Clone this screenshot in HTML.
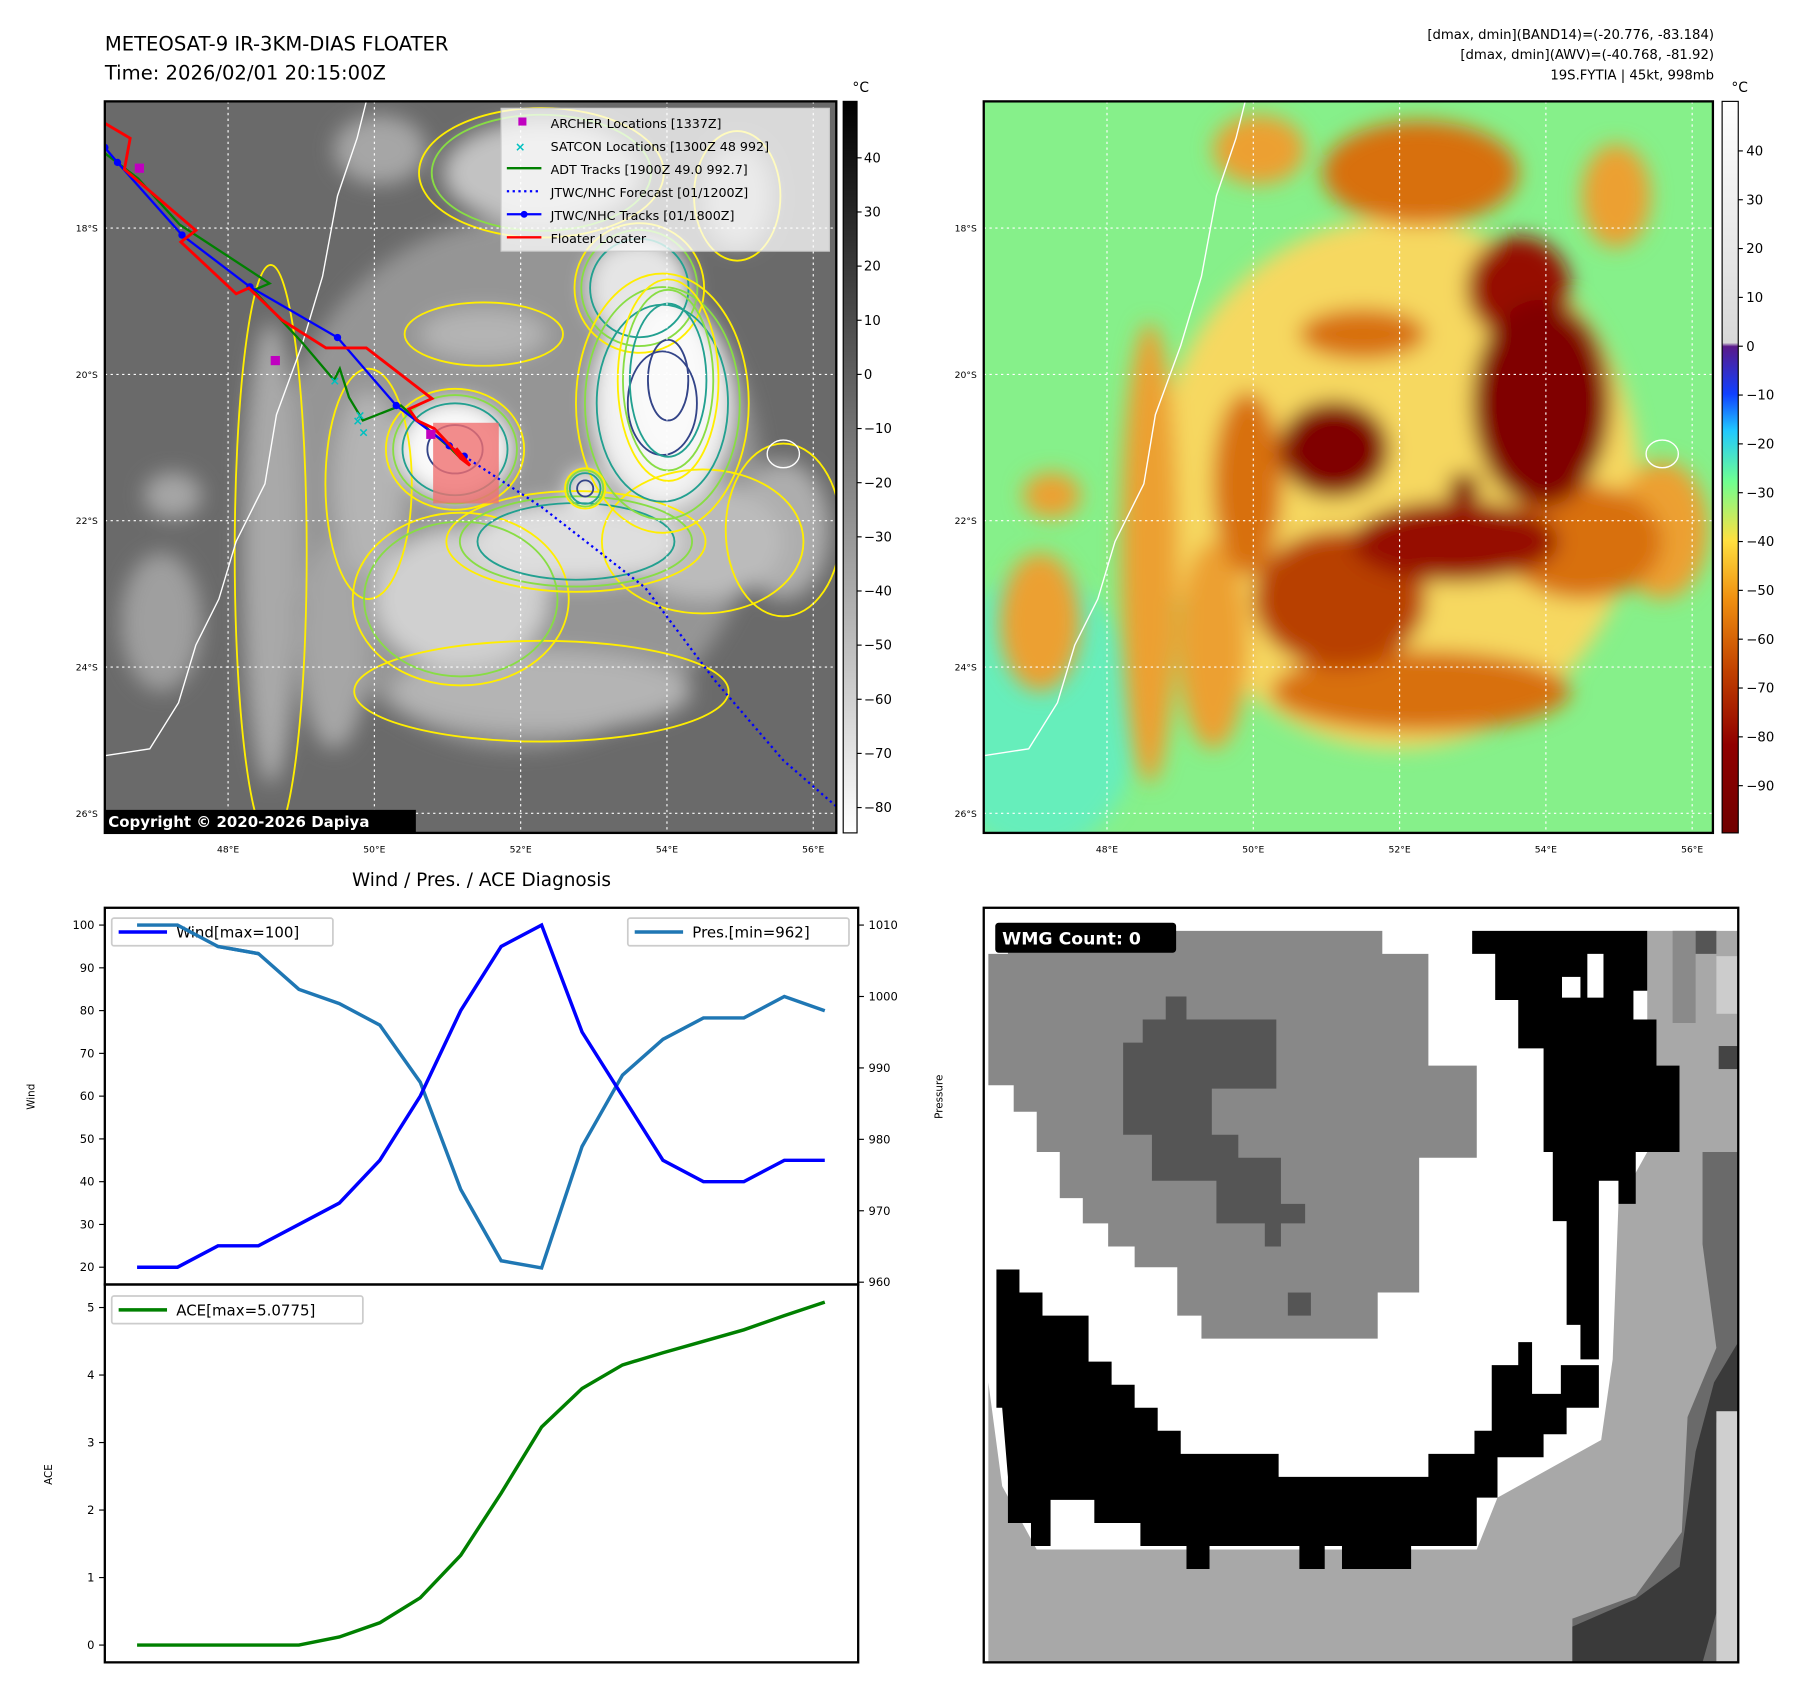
<!DOCTYPE html>
<html><head><meta charset="utf-8"><style>
html,body{margin:0;padding:0;background:#fff}
svg text{font-family:"DejaVu Sans","Liberation Sans",sans-serif}
</style></head><body>
<svg id="root" width="1797" height="1690" viewBox="0 0 1560 1467" preserveAspectRatio="none" xmlns="http://www.w3.org/2000/svg">
<defs>
<filter id="blur8" x="-50%" y="-50%" width="200%" height="200%"><feGaussianBlur stdDeviation="9"/></filter>
<filter id="blur4" x="-50%" y="-50%" width="200%" height="200%"><feGaussianBlur stdDeviation="4"/></filter>
<clipPath id="clipL"><rect x="91" y="88" width="635" height="635"/></clipPath>
<clipPath id="clipR"><rect x="854" y="88" width="633" height="635"/></clipPath>
<linearGradient id="cbL" x1="0" y1="0" x2="0" y2="1"><stop offset="0" stop-color="#000"/><stop offset="1" stop-color="#fff"/></linearGradient>
<linearGradient id="cbR" x1="0" y1="0" x2="0" y2="1">
<stop offset="0" stop-color="#ffffff"/><stop offset="0.33" stop-color="#d8d8d8"/><stop offset="0.335" stop-color="#5a1a8a"/>
<stop offset="0.4" stop-color="#1040ff"/><stop offset="0.45" stop-color="#20c8ff"/><stop offset="0.52" stop-color="#70ff90"/>
<stop offset="0.6" stop-color="#ffe040"/><stop offset="0.68" stop-color="#f09010"/><stop offset="0.78" stop-color="#c04000"/><stop offset="0.88" stop-color="#900000"/><stop offset="1" stop-color="#700000"/></linearGradient>
</defs>

<text x="91" y="44" font-size="17">METEOSAT-9 IR-3KM-DIAS FLOATER</text>
<text x="91" y="69" font-size="17">Time: 2026/02/01 20:15:00Z</text>
<g font-size="11.5" text-anchor="end">
<text x="1488" y="34">[dmax, dmin](BAND14)=(-20.776, -83.184)</text>
<text x="1488" y="51">[dmax, dmin](AWV)=(-40.768, -81.92)</text>
<text x="1488" y="69">19S.FYTIA | 45kt, 998mb</text>
</g>

<g clip-path="url(#clipL)">
<rect x="91" y="88" width="635" height="635" fill="#6a6a6a"/>
<g id="cloudsL" filter="url(#blur8)"></g>
<g id="contoursL" fill="none" stroke-width="1.6"></g>
</g>
<g clip-path="url(#clipR)">
<rect x="854" y="88" width="633" height="635" fill="#86f08a"/>
<ellipse cx="900" cy="620" rx="90" ry="120" fill="#66eebb" filter="url(#blur8)"/>
<g id="cloudsR" filter="url(#blur8)"></g>
</g>
<g id="overlays"></g>
<rect x="91" y="88" width="635" height="635" fill="none" stroke="#000" stroke-width="2"/>
<rect x="854" y="88" width="633" height="635" fill="none" stroke="#000" stroke-width="2"/>

<g font-size="11">
<rect x="435" y="94" width="285" height="124" fill="#fff" fill-opacity="0.75" stroke="#ccc"/>
<rect x="450" y="102" width="7" height="7" fill="#c000c0"/><text x="478" y="111">ARCHER Locations [1337Z]</text>
<text x="447" y="131" fill="#00c0c0" font-size="11" font-weight="bold">×</text><text x="478" y="131">SATCON Locations [1300Z 48 992]</text>
<line x1="440" y1="146" x2="470" y2="146" stroke="#008000" stroke-width="2"/><text x="478" y="151">ADT Tracks [1900Z 49.0 992.7]</text>
<line x1="440" y1="166" x2="470" y2="166" stroke="#0000ff" stroke-width="2" stroke-dasharray="2,3"/><text x="478" y="171">JTWC/NHC Forecast [01/1200Z]</text>
<line x1="440" y1="186" x2="470" y2="186" stroke="#0000ff" stroke-width="2"/><circle cx="455" cy="186" r="3" fill="#00f"/><text x="478" y="191">JTWC/NHC Tracks [01/1800Z]</text>
<line x1="440" y1="206" x2="470" y2="206" stroke="#ff0000" stroke-width="2"/><text x="478" y="211">Floater Locater</text>
</g>
<g><rect x="91" y="703" width="270" height="20" fill="#000"/><text x="94" y="718" fill="#fff" font-size="13" font-weight="bold">Copyright © 2020-2026 Dapiya</text></g>

<rect x="732" y="88" width="12" height="635" fill="url(#cbL)" stroke="#000"/>
<text x="740" y="80" font-size="12">°C</text>
<rect x="1495" y="88" width="14" height="635" fill="url(#cbR)" stroke="#000"/>
<text x="1503" y="80" font-size="12">°C</text>
<g id="axesText"></g>

<text x="418" y="769" font-size="16" text-anchor="middle">Wind / Pres. / ACE Diagnosis</text>
<g id="diag"></g>

<g>
<rect x="854" y="788" width="655" height="655" fill="#fff"/>
<polygon fill="#a8a8a8" points="858,1200 858,1443 1509,1443 1509,808 1430,808 1430,1000 1405,1045 1400,1180 1390,1250 1300,1300 1282,1345 900,1345 870,1290"/>
<polygon fill="#6a6a6a" points="1478,1000 1509,1000 1509,1443 1365,1443 1365,1405 1420,1385 1460,1330 1465,1230 1490,1170 1478,1080"/>
<polygon fill="#3a3a3a" points="1365,1412 1420,1388 1458,1360 1472,1260 1488,1200 1509,1165 1509,1225 1490,1235 1490,1400 1478,1443 1365,1443"/>
<rect x="1490" y="1225" width="19" height="218" fill="#cfcfcf"/>
<rect x="1452" y="808" width="20" height="80" fill="#8a8a8a"/><rect x="1472" y="808" width="18" height="20" fill="#555"/><rect x="1490" y="830" width="19" height="50" fill="#ccc"/><rect x="1492" y="908" width="17" height="20" fill="#444"/>
<polygon fill="#888" points="858,828 875,828 875,808 1200,808 1200,828 1240,828 1240,925 1282,925 1282,1005 1232,1005 1232,1122 1196,1122 1196,1162 1043,1162 1043,1142 1022,1142 1022,1100 985,1100 985,1082 962,1082 962,1062 940,1062 940,1040 920,1040 920,1000 900,1000 900,965 880,965 880,942 858,942"/>
<polygon fill="#555" points="975,905 992,905 992,885 1012,885 1012,865 1030,865 1030,885 1108,885 1108,945 1052,945 1052,985 1075,985 1075,1005 1112,1005 1112,1045 1133,1045 1133,1062 1112,1062 1112,1082 1098,1082 1098,1062 1056,1062 1056,1025 1000,1025 1000,985 975,985"/>
<rect x="1118" y="1122" width="20" height="20" fill="#555"/>
<polygon fill="#000" points="1278,808 1430,808 1430,860 1418,860 1418,885 1438,885 1438,925 1458,925 1458,1000 1420,1000 1420,1045 1405,1045 1405,1025 1388,1025 1388,1180 1372,1180 1372,1150 1360,1150 1360,1060 1348,1060 1348,1000 1340,1000 1340,910 1318,910 1318,868 1298,868 1298,828 1278,828"/>
<rect x="1356" y="848" width="16" height="18" fill="#fff"/><rect x="1378" y="828" width="14" height="38" fill="#fff"/>
<polygon fill="#000" points="865,1102 885,1102 885,1122 905,1122 905,1142 945,1142 945,1182 965,1182 965,1202 985,1202 985,1222 1005,1222 1005,1242 1025,1242 1025,1262 1110,1262 1110,1282 1240,1282 1240,1262 1280,1262 1280,1242 1295,1242 1295,1185 1318,1185 1318,1165 1330,1165 1330,1210 1355,1210 1355,1185 1388,1185 1388,1222 1360,1222 1360,1245 1340,1245 1340,1265 1300,1265 1300,1300 1282,1300 1282,1342 1225,1342 1225,1362 1165,1362 1165,1342 1150,1342 1150,1362 1128,1362 1128,1342 1050,1342 1050,1362 1030,1362 1030,1342 990,1342 990,1322 950,1322 950,1302 912,1302 912,1342 895,1342 895,1322 875,1322 875,1282 870,1222 865,1222"/>
<rect x="854" y="788" width="655" height="655" fill="none" stroke="#000" stroke-width="2"/>
<rect x="864" y="801" width="157" height="26" rx="3" fill="#000"/>
<text x="870" y="820" fill="#fff" font-size="15" font-weight="bold">WMG Count: 0</text>
</g>

<script>
const wind = [20,20,25,25,30,35,45,60,80,95,100,75,60,45,40,40,45,45];
const pressure = [1010,1010,1007,1006,1001,999,996,988,973,963,962,979,989,994,997,997,1000,998];
const ace = [0,0,0,0,0,0.12,0.33,0.7,1.33,2.25,3.23,3.8,4.15,4.33,4.5,4.67,4.88,5.08];
const windTicks = [20,30,40,50,60,70,80,90,100];
const presTicks = [960,970,980,990,1000,1010];
const aceTicks = [0,1,2,3,4,5];

const NS='http://www.w3.org/2000/svg';
function mk(tag, attrs, parent){const e=document.createElementNS(NS,tag);for(const k in attrs)e.setAttribute(k,attrs[k]);parent.appendChild(e);return e;}
const diag=document.getElementById('diag');
const xS=i=>119+i*(716-119)/(wind.length-1);
const yW=v=>1100-(v-20)*(1100-803)/80;
const yP=v=>1113-(v-960)*(1113-803)/50;
const yA=v=>1428-v*(1428-1135)/5;

const wf=mk('rect',{x:91,y:788,width:654,height:327,fill:'none',stroke:'#000','stroke-width':2},diag);


const af=mk('rect',{x:91,y:1115,width:654,height:328,fill:'none',stroke:'#000','stroke-width':2},diag);



windTicks.forEach(t=>{const y=yW(t);mk('line',{x1:86,x2:91,y1:y,y2:y,stroke:'#000'},diag);const tx=mk('text',{x:82,y:y+3.5,'font-size':10,'text-anchor':'end'},diag);tx.textContent=t;

});
presTicks.forEach(t=>{const y=yP(t);mk('line',{x1:745,x2:750,y1:y,y2:y,stroke:'#000'},diag);const tx=mk('text',{x:754,y:y+3.5,'font-size':10},diag);tx.textContent=t;

});
aceTicks.forEach(t=>{const y=yA(t);mk('line',{x1:86,x2:91,y1:y,y2:y,stroke:'#000'},diag);const tx=mk('text',{x:82,y:y+3.5,'font-size':10,'text-anchor':'end'},diag);tx.textContent=t;

});
let t1=mk('text',{x:30,y:952,'font-size':9,'text-anchor':'middle',transform:'rotate(-90 30 952)'},diag);t1.textContent='Wind';


let t2=mk('text',{x:818,y:952,'font-size':9,'text-anchor':'middle',transform:'rotate(-90 818 952)'},diag);t2.textContent='Pressure';


let t3=mk('text',{x:45,y:1280,'font-size':9,'text-anchor':'middle',transform:'rotate(-90 45 1280)'},diag);t3.textContent='ACE';



const pl=mk('polyline',{points:pressure.map((v,i)=>xS(i)+','+yP(v)).join(' '),fill:'none',stroke:'#1f77b4','stroke-width':3},diag);


const wl=mk('polyline',{points:wind.map((v,i)=>xS(i)+','+yW(v)).join(' '),fill:'none',stroke:'#0000ff','stroke-width':3},diag);


const al=mk('polyline',{points:ace.map((v,i)=>xS(i)+','+yA(v)).join(' '),fill:'none',stroke:'#008000','stroke-width':3},diag);



function legend(x,y,w,color,label,name){const g=mk('g',{},diag);


mk('rect',{x:x,y:y,width:w,height:24,rx:2,fill:'#fff','fill-opacity':0.8,stroke:'#ccc','stroke-width':1.5},g);
mk('line',{x1:x+6,x2:x+48,y1:y+12,y2:y+12,stroke:color,'stroke-width':3},g);
const t=mk('text',{x:x+56,y:y+17,'font-size':13},g);t.textContent=label;}
legend(97,797,192,'#0000ff','Wind[max=100]','wind-legend');
legend(545,797,192,'#1f77b4','Pres.[min=962]','pressure-legend');
legend(97,1125,218,'#008000','ACE[max=5.0775]','ace-legend');
mk('polyline',{points:pressure.slice(0,4).map((v,i)=>xS(i)+','+yP(v)).join(' '),fill:'none',stroke:'#1f77b4','stroke-width':3},diag);

// ---------- maps ----------
const blobs=[ // cx,cy,rx,ry,intensity (left-map coords)
[450,420,210,230,0.28],[235,480,25,200,0.42],[140,540,35,60,0.35],[290,560,30,90,0.4],[470,150,85,45,0.6],[330,130,40,30,0.4],
[640,170,30,45,0.45],[680,460,40,60,0.45],[150,430,25,20,0.4],
[470,600,130,35,0.5],[420,290,55,22,0.5],[610,470,70,50,0.55],[320,420,30,80,0.5],
[400,520,75,60,0.7],[500,470,90,35,0.8],[555,250,45,45,0.85],[575,350,60,90,0.95],
[395,390,48,42,1],[508,424,14,14,1],[580,330,35,70,1]];
const cL=document.getElementById('cloudsL'), cR=document.getElementById('cloudsR');
const pal=[[0.3,'#f6d860'],[0.45,'#eca030'],[0.6,'#d8700f'],[0.75,'#b84000'],[0.9,'#961000'],[2,'#800000']];
blobs.forEach(b=>{
 const g=Math.round(110+b[4]*140);
 mk('ellipse',{cx:b[0],cy:b[1],rx:b[2],ry:b[3],fill:`rgb(${g},${g},${g})`},cL);
 const col=pal.find(p=>b[4]<=p[0])[1];
 mk('ellipse',{cx:b[0]+763,cy:b[1],rx:b[2],ry:b[3],fill:col},cR);
});
const cont=document.getElementById('contoursL');
const rings=[['#ffee00',1.25],['#88dd44',1.12],['#22a090',0.95],['#334488',0.5]];
blobs.forEach(b=>{if(b[4]<0.4)return;rings.forEach((r,k)=>{ if(b[4]>0.4+k*0.18){
 mk('ellipse',{cx:b[0],cy:b[1],rx:b[2]*r[1],ry:b[3]*r[1],stroke:r[0]},cont);}});});

const ov=document.getElementById('overlays');
function lines(off,clip){const g=mk('g',{'clip-path':clip},ov);
 mk('polyline',{points:[[318,88],[310,120],[293,170],[280,240],[262,300],[240,360],[230,420],[205,470],[190,520],[170,560],[155,610],[130,650],[91,656]].map(p=>(p[0]+off)+','+p[1]).join(' '),fill:'none',stroke:'#fff','stroke-width':1.2},g);
 mk('ellipse',{cx:680+off,cy:394,rx:14,ry:12,fill:'none',stroke:'#fff','stroke-width':1.2},g);
 [198,325,452,579,706].forEach(y=>mk('line',{x1:91+off,x2:726+off,y1:y,y2:y,stroke:'#fff','stroke-dasharray':'2,3'},g));
 [198,325,452,579,706].forEach(x=>mk('line',{x1:x+off,x2:x+off,y1:88,y2:723,stroke:'#fff','stroke-dasharray':'2,3'},g));
 return g;}
lines(0,'url(#clipL)'); lines(763,'url(#clipR)');
const tg=mk('g',{'clip-path':'url(#clipL)'},ov);
mk('rect',{x:376,y:367,width:57,height:70,fill:'#f07070','fill-opacity':0.8},tg);
mk('polyline',{points:'403,396 470,440 560,510 620,590 680,660 726,700',fill:'none',stroke:'#00f','stroke-width':2,'stroke-dasharray':'2,3'},tg);
mk('polyline',{points:'91,133 120,155 156,195 234,246 220,252 262,297 290,330 295,320 303,345 315,365 348,352 392,390 400,398',fill:'none',stroke:'#008000','stroke-width':2},tg);
const bp=[[91,128],[102,141],[158,204],[217,249],[293,293],[344,352],[390,387],[403,396]];
mk('polyline',{points:bp.map(p=>p.join(',')).join(' '),fill:'none',stroke:'#00f','stroke-width':2},tg);
bp.forEach(p=>mk('circle',{cx:p[0],cy:p[1],r:3.2,fill:'#00f'},tg));
mk('polyline',{points:'91,107 113,120 108,147 170,200 157,210 205,255 216,250 245,278 283,302 318,302 375,346 355,355 362,365 377,372 392,388 400,398 408,404 396,389',fill:'none',stroke:'#f00','stroke-width':2.5},tg);
[[121,146],[239,313],[374,377]].forEach(p=>mk('rect',{x:p[0]-4,y:p[1]-4,width:8,height:8,fill:'#c000c0'},tg));
[[290,330],[312,360],[315,375],[310,365]].forEach(p=>{const t=mk('text',{x:p[0]-4,y:p[1]+4,fill:'#00c0c0','font-size':11,'font-weight':'bold'},tg);t.textContent='×';});

const at=document.getElementById('axesText');
[['18°S',198],['20°S',325],['22°S',452],['24°S',579],['26°S',706]].forEach(a=>{[85,848].forEach(x=>{const t=mk('text',{x:x,y:a[1]+3,'font-size':8,'text-anchor':'end'},at);t.textContent=a[0];

});});
[['48°E',198],['50°E',325],['52°E',452],['54°E',579],['56°E',706]].forEach(a=>{[0,763].forEach(o=>{const t=mk('text',{x:a[1]+o,y:740,'font-size':8,'text-anchor':'middle'},at);t.textContent=a[0];

});});
const cbLt=[40,30,20,10,0,-10,-20,-30,-40,-50,-60,-70,-80];
cbLt.forEach(v=>{const y=137+(40-v)*(701-137)/120;mk('line',{x1:744,x2:748,y1:y,y2:y,stroke:'#000'},at);const t=mk('text',{x:750,y:y+4,'font-size':11.5},at);t.textContent=v<0?'\u2212'+(-v):v;

});
const cbRt=[40,30,20,10,0,-10,-20,-30,-40,-50,-60,-70,-80,-90];
cbRt.forEach(v=>{const y=131+(40-v)*(682-131)/130;mk('line',{x1:1509,x2:1513,y1:y,y2:y,stroke:'#000'},at);const t=mk('text',{x:1516,y:y+4,'font-size':11.5},at);t.textContent=v<0?'\u2212'+(-v):v;

});
</script>
</svg>
</body></html>
